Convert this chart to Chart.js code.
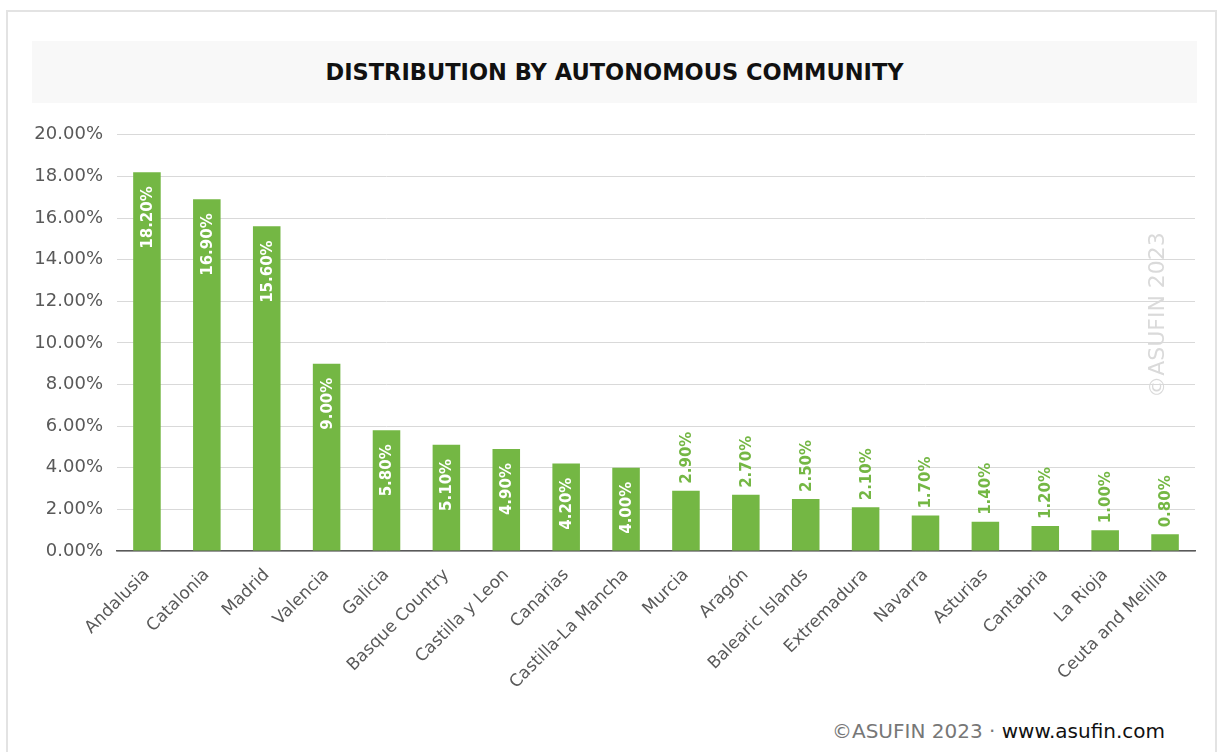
<!DOCTYPE html>
<html>
<head>
<meta charset="utf-8">
<script src="https://cdn.jsdelivr.net/npm/chart.js@4"></script>
<style>
  body { margin: 0; background: #fff; width: 1220px; height: 752px; overflow: hidden; position: relative; font-family: "DejaVu Sans", sans-serif; }
  .frame { position: absolute; left: 6px; top: 10px; width: 1207px; height: 760px; border: 2px solid #e3e3e3; }
  .title { position: absolute; left: 32px; top: 41px; width: 1165px; height: 62px; background: #f8f8f8;
           font-weight: bold; font-size: 22.5px; line-height: 62px; text-align: center; color: #111; }
  .chart-box { position: absolute; left: 0; top: 110px; width: 1220px; height: 600px; }
  .footer { position: absolute; right: 55px; top: 719px; font-size: 20px; color: #777; }
  .footer b { color: #111; font-weight: normal; }
</style>
</head>
<body>
<div class="frame"></div>
<div class="title">DISTRIBUTION BY AUTONOMOUS COMMUNITY</div>
<div class="chart-box"><canvas id="communityChart" width="1220" height="600"></canvas></div>
<div class="footer">©ASUFIN 2023 · <b>www.asufin.com</b></div>
<script>
const communities = ['Andalusia', 'Catalonia', 'Madrid', 'Valencia', 'Galicia', 'Basque Country',
  'Castilla y Leon', 'Canarias', 'Castilla-La Mancha', 'Murcia', 'Aragón', 'Balearic Islands',
  'Extremadura', 'Navarra', 'Asturias', 'Cantabria', 'La Rioja', 'Ceuta and Melilla'];
const shares = [18.2, 16.9, 15.6, 9.0, 5.8, 5.1, 4.9, 4.2, 4.0, 2.9, 2.7, 2.5, 2.1, 1.7, 1.4, 1.2, 1.0, 0.8];
const yTicks = [0, 2, 4, 6, 8, 10, 12, 14, 16, 18, 20];

const green = '#74b744';

// value labels: white inside the tall bars, green above the short ones
const barLabels = {
  id: 'barLabels',
  afterDatasetsDraw(chart) {
    const ctx = chart.ctx;
    const meta = chart.getDatasetMeta(0);
    ctx.save();
    ctx.font = 'bold 15px "DejaVu Sans"';
    ctx.textBaseline = 'middle';
    meta.data.forEach((bar, i) => {
      const v = shares[i];
      const text = v.toFixed(2) + '%';
      ctx.save();
      ctx.translate(bar.x, bar.y);
      ctx.rotate(-Math.PI / 2);
      if (v >= 3.5) {
        ctx.fillStyle = '#fff';
        ctx.textAlign = 'right';
        ctx.fillText(text, -14, 1);
      } else {
        ctx.fillStyle = green;
        ctx.textAlign = 'left';
        ctx.fillText(text, 7, 1);
      }
      ctx.restore();
    });
    ctx.restore();
  }
};

const watermark = {
  id: 'watermark',
  afterDraw(chart) {
    const ctx = chart.ctx;
    ctx.save();
    ctx.translate(1158, 205);
    ctx.rotate(-Math.PI / 2);
    ctx.font = '22px "DejaVu Sans"';
    ctx.fillStyle = '#dadada';
    ctx.textAlign = 'center';
    ctx.textBaseline = 'middle';
    ctx.fillText('©ASUFIN 2023', 0, 0);
    ctx.restore();
  }
};

new Chart(document.getElementById('communityChart'), {
  type: 'bar',
  data: {
    labels: communities,
    datasets: [{
      data: shares,
      backgroundColor: green,
      categoryPercentage: 1,
      barPercentage: 0.46
    }]
  },
  options: {
    responsive: false,
    animation: false,
    layout: { padding: { top: 9, right: 25, left: 0, bottom: 0 } },
    plugins: { legend: { display: false }, tooltip: { enabled: false } },
    scales: {
      x: {
        grid: { display: false },
        border: { color: '#595959', width: 1.5 },
        ticks: { color: '#595959', font: { size: 17, family: 'DejaVu Sans' }, minRotation: 45, maxRotation: 45, padding: 6 },
        afterFit(scale) { scale.height = 159; }
      },
      y: {
        min: 0,
        max: 20,
        afterBuildTicks(scale) { scale.ticks = yTicks.map(v => ({ value: v })); },
        grid: { color: '#d9d9d9', lineWidth: 1, drawTicks: false },
        border: { display: false },
        ticks: {
          color: '#595959',
          padding: 14,
          font: { size: 18, family: 'DejaVu Sans' },
          callback: v => v.toFixed(2) + '%'
        },
        afterFit(scale) { scale.width = 117; }
      }
    }
  },
  plugins: [barLabels, watermark]
});
</script>
</body>
</html>
